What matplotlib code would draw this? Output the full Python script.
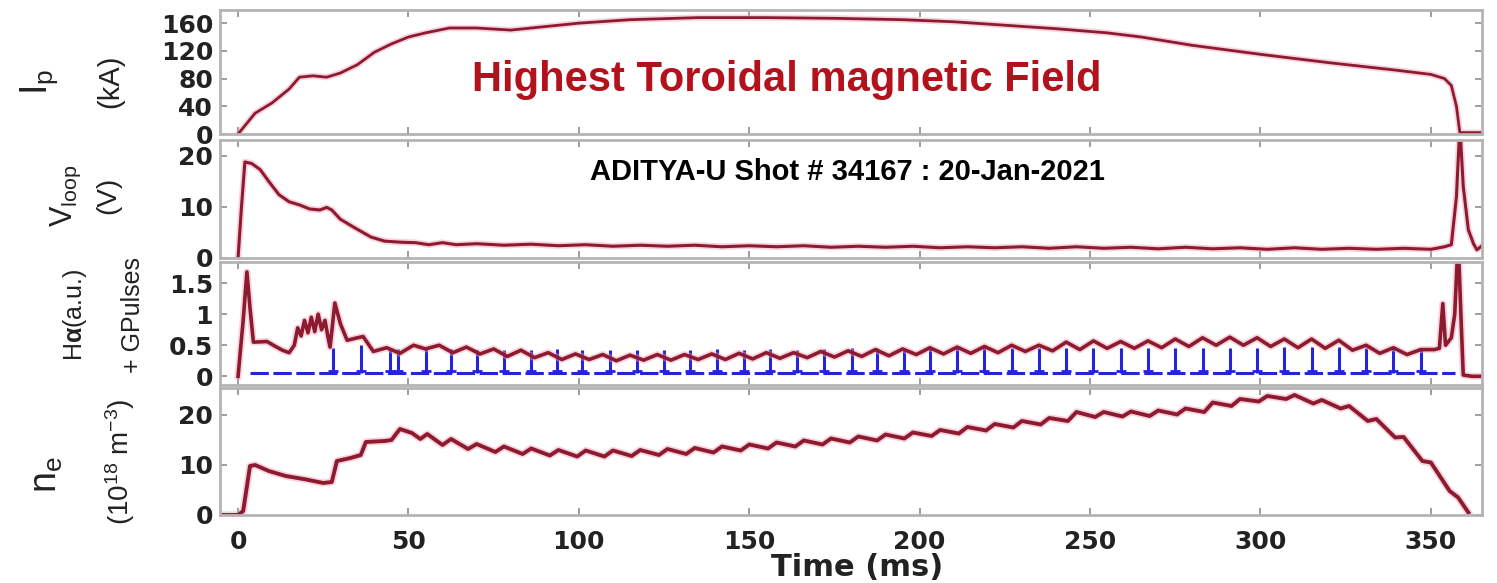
import numpy as np
import matplotlib.pyplot as plt
import matplotlib as mpl

params = {
    "font.family": ["DejaVu Sans"],
    "font.weight": "bold",
    "axes.linewidth": 2.0,
    "axes.edgecolor": "#b4b4b4",
    "xtick.direction": "in",
    "ytick.direction": "in",
    "xtick.top": True,
    "ytick.right": True,
    "xtick.major.size": 5,
    "ytick.major.size": 5,
    "xtick.color": "#8c8c8c",
    "ytick.color": "#8c8c8c",
    "xtick.labelcolor": "#222222",
    "ytick.labelcolor": "#222222",
    "xtick.labelsize": 18,
    "ytick.labelsize": 18,
    "mathtext.fontset": "custom",
    "mathtext.rm": "Liberation Sans",
    "mathtext.it": "Liberation Sans",
}
mpl.rcParams.update(params)

red = "#8e1a30"
halo = "#eaa0b4"
blue = "#2424d8"

# plasma current (kA)
ip_t = [0, 2, 5, 10, 15, 18, 22, 26, 30, 35, 40, 45, 50, 55, 62, 70, 80, 90, 100,
        115, 135, 155, 175, 195, 210, 225, 240, 255, 265, 280, 300, 320, 340, 350,
        354, 356, 357.5, 358.5, 360, 365]
ip_val = [0, 12, 30, 45, 65, 82, 84, 82, 88, 100, 118, 130, 140, 146, 153, 153, 150,
          155, 160, 165, 168, 168, 167, 165, 162, 157, 152, 146, 140, 128, 115, 103,
          92, 86, 80, 70, 40, 2, 2, 2]

# loop voltage (V)
vl_t = [0, 1, 2, 4, 6.5, 9, 12, 15, 18, 21, 24, 26, 27.5, 30, 34, 39, 43, 47.5, 52,
        56, 60, 64, 70, 78, 86, 94, 102, 110, 118, 126, 134, 142, 150, 158, 166, 174,
        182, 190, 198, 206, 214, 222, 230, 238, 246, 254, 262, 270, 278, 286, 294,
        302, 310, 318, 326, 334, 342, 350, 354, 356, 357.5, 358.5, 359.5, 361,
        362.5, 363.5, 365]
vl_val = [0, 10, 18.8, 18.5, 17.3, 15, 12.4, 11, 10.4, 9.6, 9.4, 9.9, 9.4, 7.6, 6,
          4.1, 3.3, 3.1, 3, 2.6, 3, 2.6, 2.8, 2.5, 2.7, 2.4, 2.6, 2.3, 2.5, 2.3, 2.5,
          2.2, 2.4, 2.2, 2.4, 2.1, 2.3, 2.1, 2.3, 2.0, 2.2, 2.0, 2.2, 1.9, 2.2, 1.9,
          2.1, 1.8, 2.1, 1.8, 2.0, 1.7, 2.0, 1.7, 1.9, 1.7, 1.9, 1.7, 2.2, 2.6, 12,
          26, 14, 5.5, 2.8, 1.6, 2.4]

# H-alpha (a.u.)
ha_t = [0, 1.5, 2.6, 3.5, 4.5, 8.5, 11, 13, 15, 16.5, 17.5, 18.5, 19.5, 20.5, 21.5,
        22.5, 23.5, 24.5, 25.5, 26.5, 27, 28.4, 30, 32, 35, 36.7, 39.7, 43.6, 47.5,
        51.5, 55, 59, 63, 67, 71, 75, 79, 83, 87, 91, 95, 99, 103, 107, 111, 115,
        119, 123, 127, 131, 135, 139, 143, 147, 151, 155, 159, 163, 167, 171, 175,
        179, 183, 187, 191, 195, 199, 203, 207, 211, 215, 219, 223, 227, 231, 235,
        239, 243, 247, 251, 255, 259, 263, 267, 271, 275, 279, 283, 287, 291, 295,
        299, 303, 307, 311, 315, 319, 323, 327, 331, 335, 339, 343, 347, 351, 352.5,
        353.5, 354.3, 356, 357, 358, 358.8, 359.5, 362, 365]
ha_val = [0, 0.9, 1.68, 1.1, 0.55, 0.56, 0.48, 0.42, 0.38, 0.5, 0.78, 0.65, 0.9, 0.7,
          0.95, 0.72, 1.0, 0.75, 0.9, 0.6, 0.47, 1.18, 0.85, 0.58, 0.62, 0.64, 0.4,
          0.46, 0.37, 0.5, 0.44, 0.5, 0.38, 0.47, 0.36, 0.44, 0.32, 0.42, 0.3, 0.38,
          0.27, 0.36, 0.27, 0.35, 0.25, 0.34, 0.26, 0.35, 0.26, 0.35, 0.27, 0.36, 0.27,
          0.37, 0.28, 0.38, 0.29, 0.38, 0.3, 0.4, 0.31, 0.41, 0.32, 0.43, 0.33, 0.44,
          0.35, 0.46, 0.36, 0.47, 0.37, 0.48, 0.38, 0.5, 0.4, 0.5, 0.41, 0.55, 0.43,
          0.57, 0.45, 0.56, 0.45, 0.57, 0.46, 0.6, 0.48, 0.62, 0.5, 0.63, 0.5, 0.62,
          0.48, 0.6, 0.46, 0.6, 0.45, 0.58, 0.42, 0.5, 0.37, 0.46, 0.35, 0.43, 0.43,
          0.45, 1.17, 0.5, 0.62, 1.0, 2.2, 1.0, 0.02, 0.0, 0.0]

# gas puff pulses
gp_t = [28, 36, 44.5, 47, 55, 62.5, 70, 78, 86, 93.5, 101, 109, 117, 125, 132.5,
        140.5, 148.5, 156, 164, 172, 180, 187.5, 195.5, 203, 211, 219, 227, 235, 243,
        251, 259, 267, 275, 283, 291, 299, 307, 315, 323, 331, 339, 347]
gp_h = [0.45, 0.5, 0.46, 0.44, 0.45, 0.44, 0.43, 0.43, 0.42, 0.44, 0.42, 0.43, 0.42,
        0.43, 0.42, 0.44, 0.43, 0.44, 0.43, 0.44, 0.45, 0.45, 0.44, 0.45, 0.46, 0.45,
        0.46, 0.45, 0.46, 0.46, 0.45, 0.46, 0.46, 0.46, 0.46, 0.46, 0.47, 0.47, 0.47,
        0.46, 0.47, 0.46]
gp_base = 0.05
gp_start, gp_end = 3.5, 357

# line-averaged density (1e18 m^-3)
ne_t = [-5, 0, 1.5, 3.5, 5, 9, 14, 20, 25, 27.5, 29, 33, 36, 37.5, 43, 45, 47.5, 51,
        53.5, 55.5, 60, 62.5, 67.5, 70, 75.5, 78, 83.5, 86, 91.5, 94, 99.5, 102,
        107.5, 110, 115.5, 118, 123.5, 126, 131.5, 134, 139.5, 142, 147.5, 150, 155.5,
        158, 163.5, 166, 171.5, 174, 179.5, 182, 187.5, 190, 195.5, 198, 203.5, 206,
        211.5, 214, 219.5, 222, 227.5, 230, 235.5, 238, 243.5, 246, 251.5, 254, 259.5,
        262, 267.5, 270, 275.5, 278, 283.5, 286, 291.5, 294, 299.5, 302, 307.5, 310,
        315.5, 318, 323.5, 326, 331.5, 334, 339.5, 342, 347.5, 350, 355.5, 358, 361]
ne_val = [0, 0, 0.8, 9.8, 10, 8.8, 7.8, 7.1, 6.4, 6.6, 10.8, 11.4, 12, 14.6, 14.8, 15,
          17.2, 16.4, 15.2, 16.2, 14, 15.2, 13.2, 14.2, 12.6, 13.7, 12.2, 13.3, 11.9,
          13, 11.7, 12.9, 11.7, 12.9, 11.8, 13, 12, 13.2, 12.2, 13.4, 12.5, 13.7, 12.9,
          14.1, 13.3, 14.5, 13.7, 14.9, 14.1, 15.3, 14.5, 15.7, 14.9, 16.1, 15.3, 16.5,
          15.8, 17, 16.3, 17.6, 16.9, 18.2, 17.5, 18.8, 18.1, 19.4, 18.8, 20.6, 19.6,
          20.6, 19.7, 20.7, 19.8, 20.9, 20.1, 21.3, 20.6, 22.5, 21.8, 23.2, 22.7, 23.8,
          23.2, 24, 22.3, 23, 21.3, 21.8, 18.8, 19.2, 15.5, 15.6, 10.8, 10.5, 4.8, 3.5,
          0.5]

W, H = 1497, 583
fig = plt.figure(figsize=(W / 100, H / 100), dpi=100)


def box(top, bottom, left=220, right=1482):
    return [left / W, 1 - bottom / H, (right - left) / W, (bottom - top) / H]


ax1 = fig.add_axes(box(10, 134))
ax2 = fig.add_axes(box(140, 258))
ax3 = fig.add_axes(box(262, 385))
ax4 = fig.add_axes(box(388, 515))
axes = [ax1, ax2, ax3, ax4]


def trace(ax, t, y, lw, color=red):
    ax.plot(t, y, color=halo, lw=lw + 2.5, alpha=0.45, solid_joinstyle="round")
    ax.plot(t, y, color=color, lw=lw, solid_joinstyle="round")


trace(ax1, ip_t, ip_val, 2.0)
trace(ax2, vl_t, vl_val, 2.2)
ax3.plot([gp_start, gp_end], [gp_base, gp_base], color=blue, lw=2.2, ls=(0, (6, 1.5)))
ax3.vlines(gp_t, gp_base, gp_h, color=blue, lw=2.2)
ax3.plot(gp_t, np.full(len(gp_t), gp_base + 0.03), ls="none", marker="_", ms=7,
         mew=2, color=blue)
trace(ax3, ha_t, ha_val, 2.6)
trace(ax4, ne_t, ne_val, 2.8)

ax1.set_ylim(0, 179)
ax1.set_yticks([0, 40, 80, 120, 160])
ax2.set_ylim(0, 23.1)
ax2.set_yticks([0, 10, 20])
ax3.set_ylim(-0.14, 1.84)
ax3.set_yticks([0, 0.5, 1, 1.5], ["0", "0.5", "1", "1.5"])
ax4.set_ylim(0, 25.4)
ax4.set_yticks([0, 10, 20])

for ax in axes:
    ax.set_xlim(-5.3, 365)
    ax.set_xticks(np.arange(0, 351, 50))
    ax.tick_params(which="both", width=1.2, pad=5)
    for lab in ax.get_yticklabels():
        lab.set_fontweight("bold")
for ax in axes[:-1]:
    ax.tick_params(labelbottom=False)
for lab in ax4.get_xticklabels():
    lab.set_fontweight("bold")
ax4.tick_params(axis="x", pad=11)
fig.text(857 / W, 1 - 568 / H, "Time (ms)", ha="center", va="center",
         fontsize=22, fontweight="bold", color="#222222")

# rotated axis labels
lab = dict(rotation=90, ha="center", va="center", color="#222222",
           family=["Liberation Sans", "DejaVu Sans"], fontweight="normal")


def ylab(x, y, s, size):
    fig.text(x / W, 1 - y / H, s, fontsize=size, **lab)


ylab(39, 82, r"I$_\mathregular{p}$", 27)
ylab(110, 81, "(kA)", 21)
ylab(66, 196, r"V$_\mathregular{loop}$", 22)
ylab(108, 195, "(V)", 20)
ylab(75, 315, r"H$\alpha$(a.u.)", 18)
ylab(133, 315, "+ GPulses", 18)
ylab(47, 475, r"n$_\mathregular{e}$", 27)
ylab(120, 462, r"(10$^\mathregular{18}$ m$^\mathregular{-3}$)", 20)

fig.text(787 / W, 1 - 80 / H, "Highest Toroidal magnetic Field", ha="center",
         va="center", fontsize=30, color="#b3121d",
         family=["Liberation Sans Narrow", "Liberation Sans"], fontweight="bold")
fig.text(847 / W, 1 - 172 / H, "ADITYA-U Shot # 34167 : 20-Jan-2021", ha="center",
         va="center", fontsize=21, color="black", family=["Liberation Sans"],
         fontweight="bold")

fig.savefig("out.png", dpi=100)
